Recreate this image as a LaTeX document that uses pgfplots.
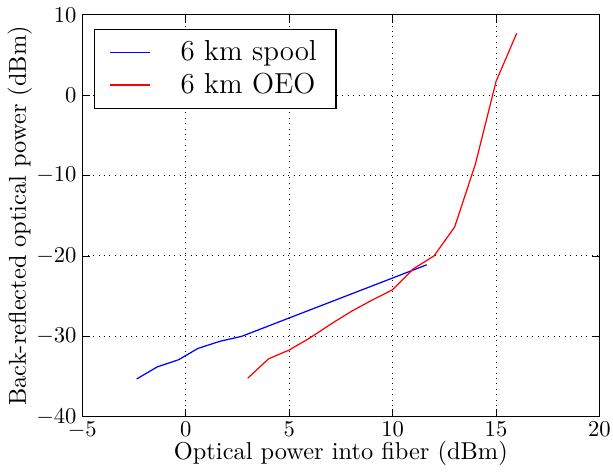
\documentclass[border=0pt]{standalone}
\usepackage{pgfplots}
\pgfplotsset{compat=1.18}

\begin{document}
\begin{tikzpicture}
\begin{axis}[
  scale only axis,
  width=229pt, height=178pt,
  xmin=-5, xmax=20, ymin=-40, ymax=10,
  xtick={-5,0,5,10,15,20},
  ytick={-40,-30,-20,-10,0,10},
  grid=major,
  major grid style={dotted, black, line width=0.45pt},
  tick align=inside,
  major tick length=3.5pt,
  tick style={black, line width=0.4pt},
  axis line style={black, line width=0.5pt},
  xticklabel style={inner xsep=1pt, inner ysep=2.2pt},
  yticklabel style={inner xsep=2.4pt},
  label style={font=\fontsize{10.8}{13}\selectfont},
  xlabel={Optical power into fiber (dBm)},
  ylabel={Back-reflected optical power (dBm)},
  xlabel style={yshift=4.6pt},
  ylabel style={yshift=-4pt},
  legend cell align=left,
  legend style={at={(0.023,0.965)}, anchor=north west,
    font=\fontsize{12.8}{15}\selectfont,
    draw=black, line width=0.5pt, inner xsep=6.5pt, inner ysep=3pt,
    nodes={inner ysep=2pt}},
  legend image code/.code={\draw[#1] (0pt,0pt) -- (17.6pt,0pt); \path (29pt,0pt);},
]
\addplot[color=blue, line width=0.55pt] coordinates {
  (-2.37,-35.3) (-1.38,-33.8) (-0.34,-32.9) (0.59,-31.5)
  (1.67,-30.6) (2.70,-30.0) (11.65,-21.1)
};
\addlegendentry{6 km spool}
\addplot[color=red, line width=0.55pt] coordinates {
  (3,-35.2) (4,-32.8) (5,-31.7) (6,-30.2) (7,-28.5) (8,-26.9)
  (9,-25.5) (10,-24.2) (11,-21.6) (12,-20.0) (13,-16.4)
  (14,-8.6) (15,1.7) (16,7.7)
};
\addlegendentry{6 km OEO}
\end{axis}
\end{tikzpicture}
\end{document}
